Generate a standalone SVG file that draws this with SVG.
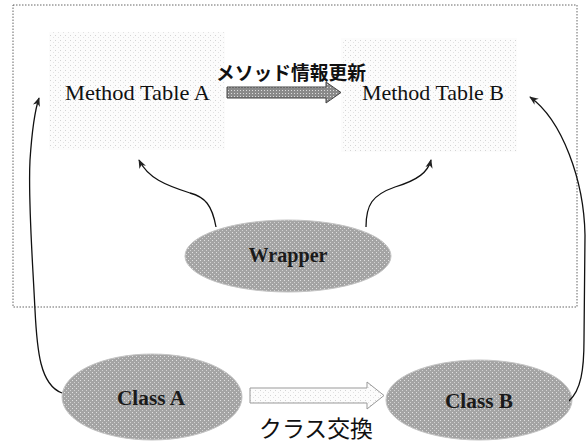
<svg xmlns="http://www.w3.org/2000/svg" width="588" height="443" viewBox="0 0 588 443">
<defs>
<style>
.lbl{font-family:"Liberation Serif","Times New Roman",serif;fill:#111;}
.nl{font-family:"Liberation Serif","Times New Roman",serif;fill:#1a1a1a;font-weight:bold;}
.jp{font-family:"Noto Sans CJK JP","Noto Sans",sans-serif;fill:#111;}
.node{stroke:#c4c4c4;stroke-width:1;}
.conn{fill:none;stroke:#111;stroke-width:1.3;}
</style>
<pattern id="dots" width="4" height="4" patternUnits="userSpaceOnUse">
<rect width="4" height="4" fill="#a4a4a4"/>
<rect width="1" height="1" fill="#e2e2e2"/>
<rect x="2" y="2" width="1" height="1" fill="#d2d2d2"/>
</pattern>
<pattern id="faint" width="5" height="5" patternUnits="userSpaceOnUse">
<rect width="5" height="5" fill="#fcfcfc"/>
<rect width="1" height="1" fill="#d4d4d4"/>
<rect x="3" y="2" width="1" height="1" fill="#e2e2e2"/>
</pattern>
<pattern id="hatch" width="3" height="3" patternUnits="userSpaceOnUse">
<rect width="3" height="3" fill="#8a8a8a"/>
<rect width="1" height="1" fill="#dddddd"/>
</pattern>
<marker id="ah" viewBox="0 0 10 10" refX="9" refY="5" markerWidth="7" markerHeight="7" orient="auto-start-reverse">
<path d="M0,1 L10,5 L0,9 L3,5 Z" fill="#222"/>
</marker>
</defs>
<rect x="13" y="5" width="564" height="302" fill="none" stroke="#666" stroke-width="1" stroke-dasharray="1.5,1.5"/>
<rect x="49" y="32" width="176" height="118" fill="url(#faint)"/>
<rect x="341" y="38" width="176" height="114" fill="url(#faint)"/>
<g id="mta"><text class="lbl" x="65" y="100" font-size="21" textLength="145" lengthAdjust="spacingAndGlyphs">Method Table A</text></g>
<g id="mtb"><text class="lbl" x="362" y="100" font-size="21" textLength="142" lengthAdjust="spacingAndGlyphs">Method Table B</text></g>
<g id="update">
<path d="M227,87 L326,87 L326,82 L341,92.5 L326,103 L326,98 L227,98 Z" fill="url(#hatch)" stroke="#444" stroke-width="1"/>
<text class="jp" x="216" y="80" font-size="19" font-weight="bold" textLength="150" lengthAdjust="spacingAndGlyphs">メソッド情報更新</text>
</g>
<g id="wrapper">
<ellipse class="node" cx="288" cy="256" rx="103" ry="36" fill="url(#dots)"/>
<text class="nl" x="288" y="262" font-size="20" text-anchor="middle" textLength="79" lengthAdjust="spacingAndGlyphs">Wrapper</text>
</g>
<g id="classA">
<ellipse class="node" cx="152" cy="397" rx="90" ry="43" fill="url(#dots)"/>
<text class="nl" x="151" y="405" font-size="20" text-anchor="middle" textLength="68" lengthAdjust="spacingAndGlyphs">Class A</text>
</g>
<g id="classB">
<ellipse class="node" cx="479" cy="400" rx="93" ry="40" fill="url(#dots)"/>
<text class="nl" x="479" y="408" font-size="20" text-anchor="middle" textLength="68" lengthAdjust="spacingAndGlyphs">Class B</text>
</g>
<g id="swap">
<path d="M250,388 L367,388 L367,382 L384,395.5 L367,409 L367,403 L250,403 Z" fill="url(#faint)" stroke="#999" stroke-width="1"/>
<text class="jp" x="259" y="437" font-size="23" textLength="114" lengthAdjust="spacingAndGlyphs">クラス交換</text>
</g>
<g id="connectors">
<path class="conn" d="M62,393 C40,385 37,350 35,310 C32,250 28,200 30,160 C32,130 35,110 39,98" marker-end="url(#ah)"/>
<path class="conn" d="M569,401 C581,390 584,370 584,340 L585,235 C584,180 562,120 530,97" marker-end="url(#ah)"/>
<path class="conn" d="M216,227 C212,205 205,197 190,193 C165,185 148,178 139,160" marker-end="url(#ah)"/>
<path class="conn" d="M366,227 C366,205 372,195 395,187 C418,180 428,172 431,160" marker-end="url(#ah)"/>
</g>
</svg>
